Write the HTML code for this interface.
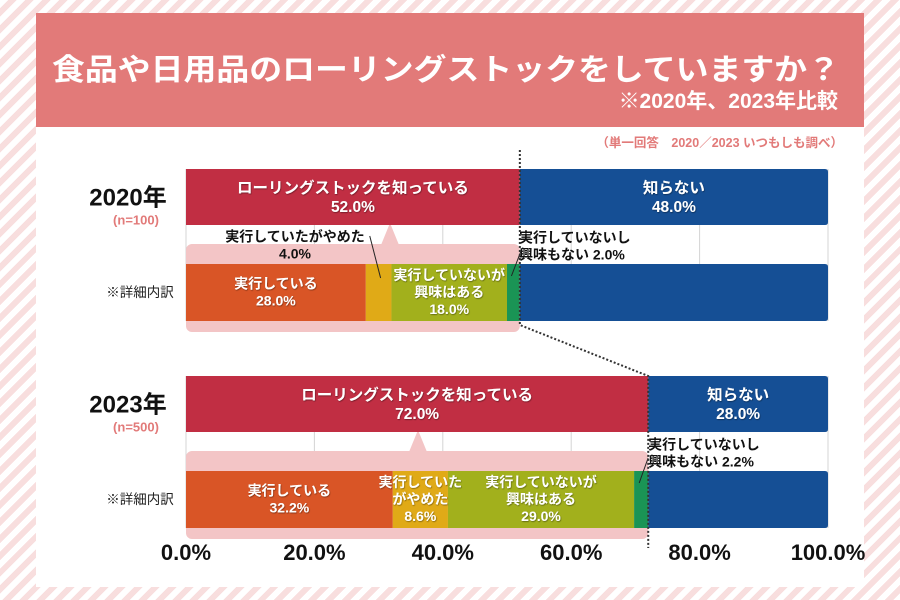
<!DOCTYPE html>
<html><head><meta charset="utf-8">
<style>
html,body{margin:0;padding:0}
body{width:900px;height:600px;overflow:hidden;background:repeating-linear-gradient(135deg,#fff 0 6px,#f8dede 6px 12px);font-family:"Liberation Sans","Noto Sans CJK JP",sans-serif}
svg text{font-family:"Liberation Sans","Noto Sans CJK JP",sans-serif}
</style></head><body>
<svg id="chart" width="900" height="600" viewBox="0 0 900 600" style="position:absolute;left:0;top:0">
<defs><filter id="sh" x="-5%" y="-5%" width="110%" height="120%"><feDropShadow dx="0.6" dy="0.8" stdDeviation="0.6" flood-color="#000" flood-opacity="0.45"/></filter></defs>
<rect x="36" y="13" width="828" height="574" fill="#fff"/>
<rect x="36" y="13" width="828" height="114" fill="#e27a79"/>
<text x="52" y="80" font-size="30" font-weight="bold" fill="#fff" textLength="788" lengthAdjust="spacingAndGlyphs">食品や日用品のローリングストックをしていますか？</text>
<text x="838" y="108" text-anchor="end" font-size="21" font-weight="bold" fill="#fff">※2020年、2023年比較</text>
<text x="843" y="147" text-anchor="end" font-size="12.5" font-weight="bold" fill="#e27a79">（単一回答　2020／2023 いつもしも調べ）</text>
<g id="grid"></g>
<g id="marks"></g>
<g id="axis"></g>
</svg>
<script>
const years = ['2020年','2023年'];
const samples = ['(n=100)','(n=500)'];
const knows = [52.0, 72.0];
const notKnows = [48.0, 28.0];
const doing = [28.0, 32.2];
const quit = [4.0, 8.6];
const interested = [18.0, 29.0];
const noInterest = [2.0, 2.2];
const ticks = [0,20,40,60,80,100];
const tickLabels = ['0.0%','20.0%','40.0%','60.0%','80.0%','100.0%'];

const NS='http://www.w3.org/2000/svg';
const X0=186, X1=828;
function x(v){return X0+(X1-X0)*v/100;}
function mk(tag,attrs,parent){const e=document.createElementNS(NS,tag);for(const k in attrs)e.setAttribute(k,attrs[k]);parent.appendChild(e);return e;}
function txt(parent,lines,cx,cy,size,fill,shadow,anchor,weight){
  const t=mk('text',{x:cx,'font-size':size,'font-weight':weight||'bold',fill:fill,'text-anchor':anchor||'middle'},parent);
  if(shadow)t.setAttribute('filter','url(#sh)');
  const lh=size*1.22, y0=cy-(lines.length-1)*lh/2+size*0.36;
  lines.forEach((l,i)=>{const s=mk('tspan',{x:cx,y:y0+i*lh},t);s.textContent=l;});
  return t;
}
const grid=document.getElementById('grid'), marks=document.getElementById('marks'), axis=document.getElementById('axis');
const rowTop=[169,376];
const pointerX=[390,418];
rowTop.forEach((top,i)=>{
  const detTop=top+95;
  ticks.forEach(tk=>{
    const gl=mk('line',{x1:x(tk),x2:x(tk),y1:top,y2:detTop+57,stroke:'#d4d4d4','stroke-width':1},grid);
    
    
  });
  const hl=mk('rect',{x:x(0),y:top+75,width:x(knows[i])-x(0),height:88,rx:6,fill:'#f3c5c6'},grid);
  
  
  const tx=pointerX[i];
  const tri=mk('polygon',{points:`${tx-9},${top+76} ${tx},${top+54} ${tx+9},${top+76}`,fill:'#f3c5c6'},grid);
  
  
  const b1=mk('rect',{x:x(0),y:top,width:x(knows[i])-x(0),height:56,fill:'#c12e43'},marks);
  
  
  txt(marks,['ローリングストックを知っている',knows[i].toFixed(1)+'%'],(x(0)+x(knows[i]))/2,top+28,15.5,'#fff',true);
  const b2=mk('path',{d:`M${x(knows[i])},${top}H${x(100)-3}q3,0 3,3V${top+53}q0,3 -3,3H${x(knows[i])}Z`,fill:'#154f95'},marks);
  
  
  txt(marks,['知らない',notKnows[i].toFixed(1)+'%'],(x(knows[i])+x(100))/2,top+28,15.5,'#fff',true);
  const segs=[[doing[i],'#d95526','bar-doing'],[quit[i],'#e0aa17','bar-quit'],[interested[i],'#a2b01c','bar-interested'],[noInterest[i],'#1a9455','bar-no-interest']];
  let acc=0;
  segs.forEach(s=>{
    const r=mk('rect',{x:x(acc),y:detTop,width:x(acc+s[0])-x(acc),height:57,fill:s[1]},marks);
    
    
    acc+=s[0];
  });
  const b3=mk('path',{d:`M${x(acc)},${detTop}H${x(100)-3}q3,0 3,3V${detTop+54}q0,3 -3,3H${x(acc)}Z`,fill:'#154f95'},marks);
  
  
  const mid=(a,b)=>(x(a)+x(b))/2;
  txt(marks,['実行している',doing[i].toFixed(1)+'%'],mid(0,doing[i]),detTop+28,14,'#fff',true);
  const q0=doing[i], q1=doing[i]+quit[i];
  if(i===0){
    txt(marks,['実行していたがやめた',quit[i].toFixed(1)+'%'],295,top+76,14,'#111',false);
    mk('line',{x1:x(q0)+4,y1:top+67,x2:mid(q0,q1)+2,y2:detTop+14,stroke:'#222','stroke-width':1},marks);
  } else {
    txt(marks,['実行していた','がやめた',quit[i].toFixed(1)+'%'],mid(q0,q1),detTop+28,14,'#fff',true);
  }
  txt(marks,['実行していないが','興味はある',interested[i].toFixed(1)+'%'],mid(q1,q1+interested[i]),detTop+28,14,'#fff',true);
  const n0=q1+interested[i];
  txt(marks,['実行していないし','興味もない '+noInterest[i].toFixed(1)+'%'],x(n0)+ (i===0?12:14),top+77,14,'#111',false,'start');
  mk('line',{x1:x(n0)+14,y1:top+82,x2:mid(n0,n0+noInterest[i])-2,y2:detTop+12,stroke:'#222','stroke-width':1},marks);
  const yl=txt(axis,[years[i]],128,top+28,24,'#111',false);
  
  
  const nl=txt(axis,[samples[i]],136,top+51,13,'#e27a79',false);
  
  
  const dl=txt(axis,['※詳細内訳'],140,detTop+28,13.5,'#222',false,'middle','normal');
  
  
});
const dp=mk('path',{d:`M${x(knows[0])},150V325L${x(knows[1])},376V548`,fill:'none',stroke:'#333','stroke-width':2,'stroke-dasharray':'2 2'},marks);


ticks.forEach((tk,j)=>{
  const t=mk('text',{x:x(tk),y:560,'text-anchor':'middle','font-size':22,'font-weight':'bold',fill:'#111'},axis);
  t.textContent=tickLabels[j];
  
  
});
</script>
</body></html>
